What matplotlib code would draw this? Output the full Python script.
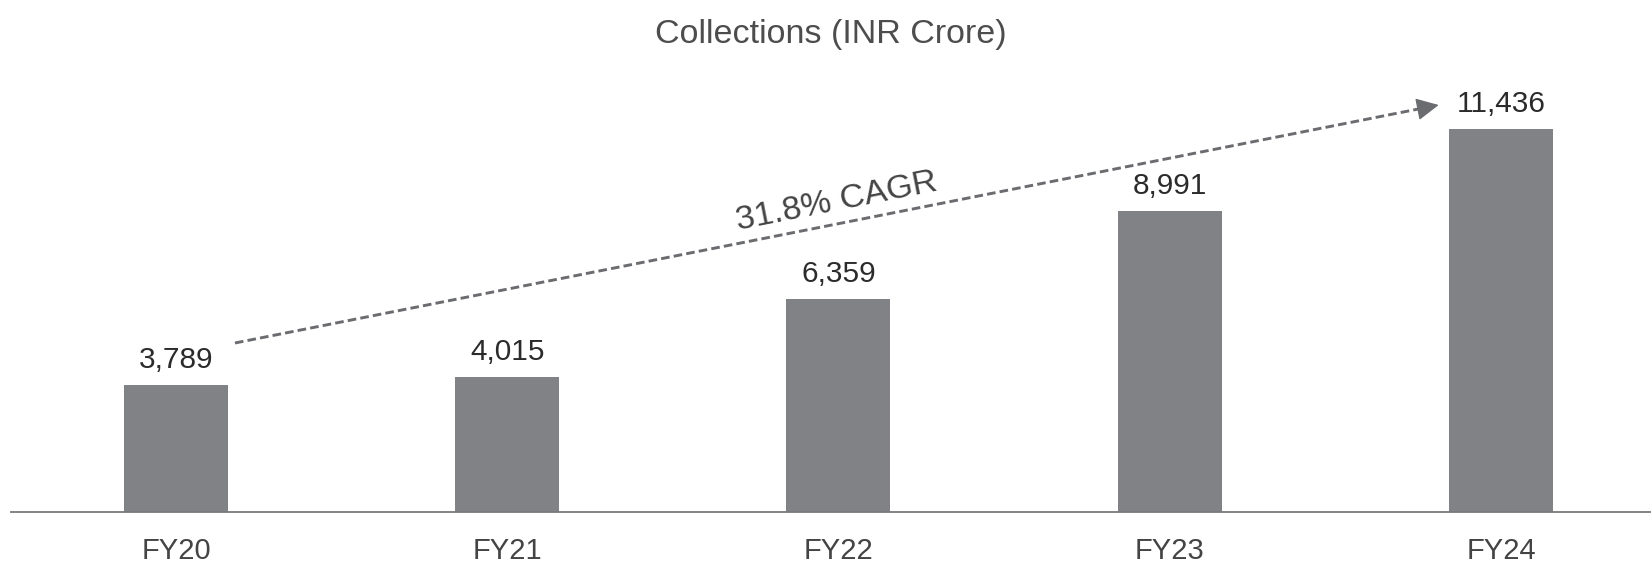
import matplotlib
matplotlib.use("Agg")
import matplotlib.pyplot as plt
import numpy as np

categories = ["FY20", "FY21", "FY22", "FY23", "FY24"]
values = [3789, 4015, 6359, 8991, 11436]
title = "Collections (INR Crore)"

plt.rcParams['font.family'] = ['Liberation Sans', 'DejaVu Sans']
plt.rcParams['lines.scale_dashes'] = False

W, H = 1651, 562
fig = plt.figure(figsize=(W / 100, H / 100), dpi=100)
base_px = 511.7
ax = fig.add_axes([10.5 / W, (H - base_px) / H, 1 - 10.5 / W, base_px / H])

x = np.arange(len(categories))
bar_color = "#818286"
ax.bar(x, values, width=0.314, color=bar_color, zorder=2)

ax.set_xlim(-0.4996, 4.453)
ax.set_ylim(0, base_px / 0.03344)

for s in ["top", "right", "left"]:
    ax.spines[s].set_visible(False)
ax.spines["bottom"].set_color("#7a7a7a")
ax.spines["bottom"].set_linewidth(1.3)
ax.set_yticks([])
ax.set_xticks(x)
ax.set_xticklabels(categories, fontsize=21, color="#444444")
ax.tick_params(axis="x", length=0, pad=18)

for xi, v in zip(x, values):
    ax.annotate(f"{v:,}", xy=(xi, v), xytext=(0, 12.5), textcoords="offset points",
                ha="center", va="baseline", fontsize=21.5, color="#2b2b2b")

# CAGR arrow
cagr = (values[-1] / values[0]) ** (1 / (len(values) - 1)) - 1
x0, y0 = x[0] + 0.178, values[0] + 1256
x1, y1 = x[-1] - 0.188, values[-1] + 726
line_color = "#6b6c70"
ax.plot([x0, x1 - 0.04], [y0, y1 - 0.04 * (y1 - y0) / (x1 - x0)], color=line_color,
        lw=2.1, dashes=(6.2, 3.0), zorder=3)
ax.annotate("", xy=(x1, y1), xytext=(x1 - 0.06, y1 - 0.06 * (y1 - y0) / (x1 - x0)),
            arrowprops=dict(arrowstyle="-|>,head_length=0.7,head_width=0.35",
                            color=line_color, lw=1, mutation_scale=20,
                            shrinkA=0, shrinkB=0), zorder=4)

# rotation angle in display coords
p0 = ax.transData.transform((x0, y0))
p1 = ax.transData.transform((x1, y1))
ang = np.degrees(np.arctan2(p1[1] - p0[1], p1[0] - p0[0]))
xm, ym = (x0 + x1) / 2, (y0 + y1) / 2
ax.annotate(f"{cagr * 100:.1f}% CAGR", xy=(xm, ym), xytext=(0, 16),
            textcoords="offset points", ha="center", va="center",
            rotation=ang, fontsize=24.5, color="#444444")

fig.text(831 / W, 1 - 42.7 / H, title, ha="center", va="baseline",
         fontsize=24.5, color="#4d4d4d")

fig.savefig("out.png", dpi=100)
